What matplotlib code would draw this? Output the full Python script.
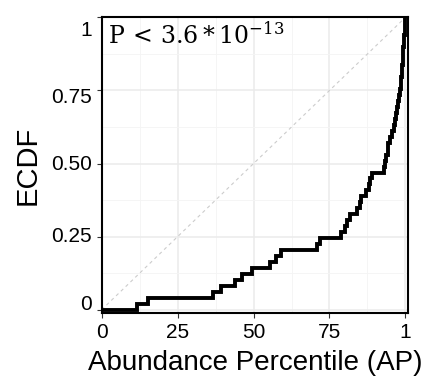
import numpy as np
import matplotlib.pyplot as plt
import matplotlib.transforms as mtrans
from matplotlib.ticker import MultipleLocator

# abundance percentile of each sample
ap = [11.7, 15.4, 36.6, 39.2, 43.9, 46.1, 49.6, 55.4, 57.3, 58.9,
      71.0, 71.9, 78.7, 80.1, 80.9, 81.8, 84.0, 84.9, 85.4, 87.0,
      87.9, 88.3, 88.9, 93.0, 93.3, 93.6, 94.1, 94.4, 95.0, 95.5,
      96.1, 96.6, 96.9, 97.2, 97.7, 98.0, 98.3, 98.5, 98.6, 98.8,
      98.9, 99.1, 99.2, 99.3, 99.5, 99.6, 99.7, 99.85, 99.95]
x_ticks = [0, 25, 50, 75, 100]
x_ticklabels = ["0", "25", "50", "75", "1"]
y_ticks = [0, 0.25, 0.5, 0.75, 1]
y_ticklabels = ["0", "0.25", "0.50", "0.75", "1"]
p_label = r"$\mathrm{P}\,<\,3.6 * 10^{-13}$"

plt.rcParams['font.family'] = ['Liberation Sans', 'DejaVu Sans']

fig = plt.figure(figsize=(4.4, 3.86), dpi=100)
ax = fig.add_axes([0.231, 0.190, 0.696, 0.765])

xs = np.sort(np.array(ap))
n = len(xs)
ys = np.arange(1, n + 1) / n
ax.step(np.r_[0, xs], np.r_[0, ys], where='post', color='black', lw=2.8,
        solid_joinstyle='miter', zorder=3)

ax.plot([0, 100], [0, 1], ls=(0, (3, 3)), color='#cccccc', lw=0.8, zorder=2)

ax.set_xlim(0, 100.8)
ax.set_ylim(-0.01, 1.0)
ax.set_xticks(x_ticks)
ax.set_xticklabels(x_ticklabels)
ax.set_yticks(y_ticks)
ax.set_yticklabels([])
ax.xaxis.set_minor_locator(MultipleLocator(12.5))
ax.yaxis.set_minor_locator(MultipleLocator(0.125))
ax.grid(which='major', color='#ebebeb', lw=1.1, zorder=0)
ax.grid(which='minor', color='#f4f4f4', lw=0.6, zorder=0)
ax.set_axisbelow(True)
ax.tick_params(which='minor', length=0)
ax.tick_params(which='major', length=3.5, width=0.8, labelsize=15, pad=4,
               color='#333333')

# y tick labels sit slightly off their ticks in the reference
shifts_px = [5, 0, -1, -7, -13]
for yv, lab, dy in zip(y_ticks, y_ticklabels, shifts_px):
    tr = ax.get_yaxis_transform() + mtrans.ScaledTranslation(-7 / 72, dy / 100, fig.dpi_scale_trans)
    ax.text(0, yv, lab, transform=tr, ha='right', va='center', fontsize=15,
            family='Liberation Sans')

for s in ax.spines.values():
    s.set_linewidth(1.5)
    s.set_color('black')

ax.set_xlabel("Abundance Percentile (AP)", fontsize=20, labelpad=6)
ax.set_ylabel("ECDF", fontsize=21, labelpad=36)

ax.text(0.02, 0.985, p_label, transform=ax.transAxes, fontsize=17,
        ha='left', va='top', math_fontfamily='dejavuserif')

fig.savefig("out.png", dpi=100)
